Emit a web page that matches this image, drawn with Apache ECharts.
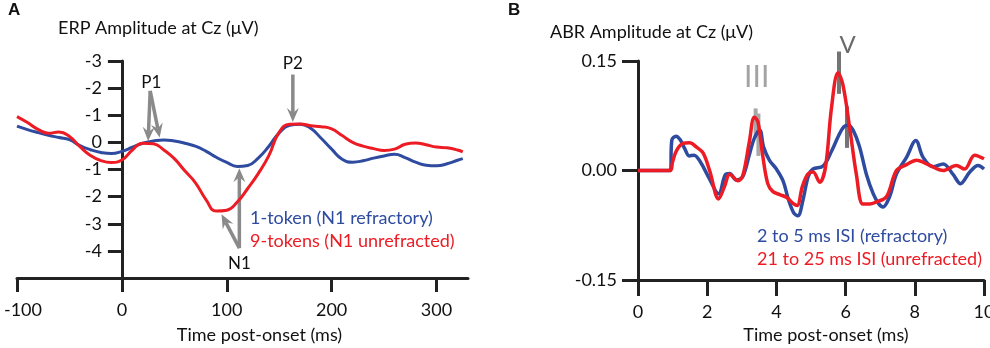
<!DOCTYPE html>
<html>
<head>
<meta charset="utf-8">
<script src="https://cdn.jsdelivr.net/npm/echarts@6/dist/echarts.min.js"></script>
<style>
    html, body { margin: 0; padding: 0; background: #fff; }
    #box { width: 990px; height: 348px; }
</style>
</head>
<body>
<div id="box"></div>
<script>
// ERP panel (A): time in ms, amplitude in uV (positive plotted downward)
var erpTime = [-100, -90, -80, -70, -60, -50, -40, -30, -20, -10, 0, 10, 20, 30, 40, 50, 60, 70, 80, 90,
    100, 110, 120, 130, 140, 150, 160, 170, 180, 190, 200, 210, 220, 230, 240, 250, 260, 270, 280, 290,
    300, 310, 320, 325];
var erp1Token = [-0.60, -0.47, -0.36, -0.26, -0.18, -0.10, 0.12, 0.27, 0.37, 0.41, 0.33, 0.18, 0.03, -0.05, -0.09, -0.05, 0.03, 0.14, 0.32, 0.55,
    0.74, 0.89, 0.85, 0.58, 0.15, -0.35, -0.63, -0.67, -0.52, -0.15, 0.25, 0.62, 0.73, 0.68, 0.58, 0.50, 0.44, 0.56, 0.73, 0.84,
    0.86, 0.79, 0.66, 0.60];
var erp9Tokens = [-0.95, -0.73, -0.48, -0.34, -0.38, -0.22, 0.16, 0.48, 0.67, 0.74, 0.65, 0.28, 0.03, 0.05, 0.28, 0.60, 1.05, 1.48, 2.10, 2.53,
    2.50, 2.20, 1.70, 1.15, 0.50, -0.38, -0.67, -0.68, -0.61, -0.58, -0.50, -0.25, 0.00, 0.14, 0.23, 0.30, 0.25, 0.07, 0.02, 0.09,
    0.17, 0.20, 0.28, 0.35];
var erpXTicks = [-100, 0, 100, 200, 300];
var erpYTicks = [-3, -2, -1, 0, 1, 2, 3, 4];

// ABR panel (B): [time ms, amplitude uV]
var abrRefractory = [[0, 0], [0.93, 0], [0.98, 0.042], [1.1, 0.047], [1.22, 0.042], [1.35, 0.030], [1.48, 0.020], [1.62, 0.021],
    [1.8, 0.012], [2.05, -0.010], [2.33, -0.032], [2.52, -0.006], [2.65, -0.004], [2.84, -0.013], [3.03, -0.008], [3.22, 0.022],
    [3.37, 0.045], [3.52, 0.055], [3.63, 0.032], [3.8, 0.014], [4.0, 0.002], [4.19, -0.014], [4.35, -0.040], [4.5, -0.058],
    [4.62, -0.062], [4.77, -0.040], [4.92, -0.008], [5.06, 0.002], [5.35, 0.006], [5.6, 0.027], [5.8, 0.048], [5.95, 0.060],
    [6.08, 0.062], [6.22, 0.055], [6.4, 0.033], [6.6, -0.005], [6.8, -0.032], [6.95, -0.045], [7.08, -0.050], [7.27, -0.036],
    [7.47, -0.005], [7.76, 0.018], [8.03, 0.041], [8.24, 0.018], [8.53, 0.005], [8.82, 0.009], [9.1, -0.005], [9.32, -0.018],
    [9.59, -0.002], [9.83, 0.007], [10, 0.002]];
var abrUnrefracted = [[0, 0], [0.92, 0], [1.0, 0.012], [1.11, 0.027], [1.3, 0.037], [1.49, 0.038], [1.69, 0.032], [1.88, 0.024],
    [2.07, 0.0], [2.33, -0.039], [2.5, -0.022], [2.65, -0.005], [2.89, -0.014], [3.03, -0.007], [3.22, 0.040], [3.36, 0.073],
    [3.47, 0.066], [3.6, 0.022], [3.75, -0.018], [3.9, -0.029], [4.1, -0.033], [4.3, -0.037], [4.48, -0.045], [4.6, -0.048],
    [4.75, -0.022], [4.91, -0.005], [5.06, -0.002], [5.25, -0.016], [5.42, 0.005], [5.59, 0.085], [5.78, 0.134], [5.92, 0.118],
    [6.12, 0.058], [6.31, -0.005], [6.5, -0.046], [6.7, -0.046], [6.89, -0.043], [7.18, -0.036], [7.47, 0.0], [7.76, 0.008],
    [8.05, 0.014], [8.43, 0.007], [8.82, 0.0], [9.2, 0.007], [9.44, 0.002], [9.73, 0.021], [10, 0.016]];
var abrXTicks = [0, 2, 4, 6, 8, 10];
var abrYTicks = [-0.15, 0, 0.15];

// annotations: arrows [t0, v0, t1, v1], labels [text, t, v], peak bars [t, vTop, vBottom]
var erpArrows = [[27, -1.9, 25, -0.05], [27, -1.9, 36, -0.18], [163, -2.5, 163, -0.75], [112, 3.9, 112, 0.95], [112, 3.9, 95, 2.65]];
var erpPeakLabels = [['P1', 28, -2.2], ['P2', 163, -2.9], ['N1', 112, 4.45]];
var abrPeakLabels = [['III', 3.43, 0.127], ['V', 6.06, 0.171]];
var abrBarsIII = [[3.40, 0.085, 0.045], [3.48, 0.078, 0.020]];
var abrBarsV = [[5.81, 0.163, 0.105], [6.04, 0.088, 0.031]];

var names = ['1-token (N1 refractory)', '9-tokens (N1 unrefracted)', '2 to 5 ms ISI (refractory)', '21 to 25 ms ISI (unrefracted)'];

window.onload = function () {
    var myChart = echarts.init(document.getElementById('box'));
    var blue = '#2e4b9f', red = '#ed1c24', grey = '#8a8a8a', ink = '#111';
    var font = 'Lato, "Open Sans", sans-serif';
    var labelStyle = {
        'III': { color: '#a3a3a3', size: 30 },
        'V': { color: '#6a6a6a', size: 24 }
    };

    function zip(xs, ys) {
        return xs.map(function (x, i) { return [x, ys[i]]; });
    }

    function arrowItem(params, api) {
        var p0 = api.coord([api.value(0), api.value(1)]);
        var p1 = api.coord([api.value(2), api.value(3)]);
        var dx = p1[0] - p0[0], dy = p1[1] - p0[1];
        var len = Math.sqrt(dx * dx + dy * dy);
        var ux = dx / len, uy = dy / len;
        var hl = 14, hw = 6;
        var bx = p1[0] - ux * hl, by = p1[1] - uy * hl;
        var nx = p1[0] - ux * hl * 0.65, ny = p1[1] - uy * hl * 0.65;
        return {
            type: 'group',
            children: [{
                type: 'line',
                shape: { x1: p0[0], y1: p0[1], x2: nx, y2: ny },
                style: { stroke: grey, lineWidth: 3.5 }
            }, {
                type: 'polygon',
                shape: { points: [[p1[0], p1[1]], [bx - uy * hw, by + ux * hw], [nx, ny], [bx + uy * hw, by - ux * hw]] },
                style: { fill: grey }
            }]
        };
    }

    function labelItem(list) {
        return function (params, api) {
            var n = list[params.dataIndex];
            var p = api.coord([n[1], n[2]]);
            var st = labelStyle[n[0]] || {};
            return {
                type: 'text',
                x: p[0],
                y: p[1],
                style: {
                    text: n[0], fill: st.color || ink, fontSize: st.size || 17, fontFamily: font,
                    align: 'center', verticalAlign: 'middle'
                }
            };
        };
    }

    function barItem(colour) {
        return function (params, api) {
            var a = api.coord([api.value(0), api.value(1)]);
            var b = api.coord([api.value(0), api.value(2)]);
            return {
                type: 'line',
                shape: { x1: a[0], y1: a[1], x2: b[0], y2: b[1] },
                style: { stroke: colour, lineWidth: 4 }
            };
        };
    }

    var axisLine = { lineStyle: { color: '#222', width: 3 } };
    var tickStyle = { color: '#222', width: 3 };
    var labelText = { fontSize: 18, color: ink, fontFamily: font };

    var option = {
        animation: false,
        title: [
            { text: 'A', left: 8, top: 2, padding: 0, textStyle: { fontSize: 17, fontWeight: 'bold', color: ink, fontFamily: 'Liberation Sans' } },
            { text: 'B', left: 508, top: 2, padding: 0, textStyle: { fontSize: 17, fontWeight: 'bold', color: ink, fontFamily: 'Liberation Sans' } },
            { text: 'ERP Amplitude at Cz (\u03bcV)', left: 58, top: 19, padding: 0, textStyle: { fontSize: 18, fontWeight: 'normal', color: ink, fontFamily: font } },
            { text: 'ABR Amplitude at Cz (\u03bcV)', left: 550, top: 23, padding: 0, textStyle: { fontSize: 18, fontWeight: 'normal', color: ink, fontFamily: font } }
        ],
        legend: [{
            data: [{ name: names[0], textStyle: { color: blue } }, { name: names[1], textStyle: { color: red } }],
            icon: 'none', itemWidth: 0, itemHeight: 18, itemGap: 5, orient: 'vertical',
            left: 245, top: 209, padding: 0, selectedMode: false,
            textStyle: { fontSize: 18, fontFamily: font }
        }, {
            data: [{ name: names[2], textStyle: { color: blue } }, { name: names[3], textStyle: { color: red } }],
            icon: 'none', itemWidth: 0, itemHeight: 18, itemGap: 5, orient: 'vertical',
            left: 752, top: 227, padding: 0, selectedMode: false,
            textStyle: { fontSize: 18, fontFamily: font }
        }],
        grid: [
            { left: 17, right: 522, top: 61, bottom: 70, containLabel: false, outerBoundsMode: 'none' },
            { left: 638, right: 6, top: 61, bottom: 68, containLabel: false, outerBoundsMode: 'none' }
        ],
        xAxis: [{
            gridIndex: 0, type: 'value', min: -100, max: 330, interval: 100,
            axisLine: { onZero: false, lineStyle: axisLine.lineStyle },
            axisTick: { length: 14, lineStyle: tickStyle, customValues: erpXTicks },
            axisLabel: Object.assign({
                customValues: erpXTicks, margin: 23,
                formatter: function (v) { return v === -100 ? '{m|' + v + '}' : String(v); },
                rich: { m: { fontSize: 18, color: ink, fontFamily: font, padding: [0, 0, 0, 12] } }
            }, labelText),
            splitLine: { show: false },
            name: 'Time post-onset (ms)', nameLocation: 'middle', nameGap: 48,
            nameTextStyle: Object.assign({ padding: [0, 0, 0, 34] }, labelText)
        }, {
            gridIndex: 1, type: 'value', min: 0, max: 10, interval: 2,
            axisLine: { onZero: false, lineStyle: axisLine.lineStyle },
            axisTick: { length: 16, lineStyle: tickStyle, customValues: abrXTicks },
            axisLabel: Object.assign({ customValues: abrXTicks, margin: 23 }, labelText),
            splitLine: { show: false },
            name: 'Time post-onset (ms)', nameLocation: 'middle', nameGap: 46,
            nameTextStyle: Object.assign({ padding: [0, 0, 0, 30] }, labelText)
        }],
        yAxis: [{
            gridIndex: 0, type: 'value', inverse: true, min: -3, max: 5, interval: 1,
            offset: -104.9,
            axisLine: { show: true, onZero: false, lineStyle: axisLine.lineStyle },
            axisTick: { show: true, length: 14, lineStyle: tickStyle, customValues: erpYTicks },
            axisLabel: Object.assign({
                customValues: erpYTicks, margin: 20,
                formatter: function (v) { return v === 0 ? '0' : '-' + Math.abs(v); }
            }, labelText),
            splitLine: { show: false }
        }, {
            gridIndex: 1, type: 'value', min: -0.15, max: 0.15, interval: 0.15,
            axisLine: { show: true, onZero: false, lineStyle: axisLine.lineStyle },
            axisTick: { show: true, length: 16, lineStyle: tickStyle, customValues: abrYTicks },
            axisLabel: Object.assign({
                customValues: abrYTicks, margin: 21,
                formatter: function (v) { return v.toFixed(2); }
            }, labelText),
            splitLine: { show: false }
        }],
        series: [{
            type: 'line', name: names[0], xAxisIndex: 0, yAxisIndex: 0,
            data: zip(erpTime, erp1Token), smooth: 0.5, symbol: 'none',
            lineStyle: { color: blue, width: 3 }, itemStyle: { color: blue }
        }, {
            type: 'line', name: names[1], xAxisIndex: 0, yAxisIndex: 0,
            data: zip(erpTime, erp9Tokens), smooth: 0.5, symbol: 'none',
            lineStyle: { color: red, width: 3 }, itemStyle: { color: red }
        }, {
            type: 'line', name: names[2], xAxisIndex: 1, yAxisIndex: 1,
            data: abrRefractory, smooth: 0.35, symbol: 'none',
            lineStyle: { color: blue, width: 3.5 }, itemStyle: { color: blue }
        }, {
            type: 'line', name: names[3], xAxisIndex: 1, yAxisIndex: 1,
            data: abrUnrefracted, smooth: 0.35, symbol: 'none',
            lineStyle: { color: red, width: 3.5 }, itemStyle: { color: red }
        }, {
            type: 'custom', xAxisIndex: 0, yAxisIndex: 0, silent: true,
            renderItem: arrowItem, encode: { x: [0, 2], y: [1, 3] }, data: erpArrows
        }, {
            type: 'custom', xAxisIndex: 0, yAxisIndex: 0, silent: true,
            renderItem: labelItem(erpPeakLabels),
            data: erpPeakLabels.map(function (n) { return [n[1], n[2]]; })
        }, {
            type: 'custom', xAxisIndex: 1, yAxisIndex: 1, silent: true,
            renderItem: barItem('#a8a8a8'), encode: { x: 0, y: [1, 2] }, data: abrBarsIII
        }, {
            type: 'custom', xAxisIndex: 1, yAxisIndex: 1, silent: true,
            renderItem: barItem('#747474'), encode: { x: 0, y: [1, 2] }, data: abrBarsV
        }, {
            type: 'custom', xAxisIndex: 1, yAxisIndex: 1, silent: true,
            renderItem: labelItem(abrPeakLabels),
            data: abrPeakLabels.map(function (n) { return [n[1], n[2]]; })
        }]
    };
    myChart.setOption(option);
};
</script>
</body>
</html>
